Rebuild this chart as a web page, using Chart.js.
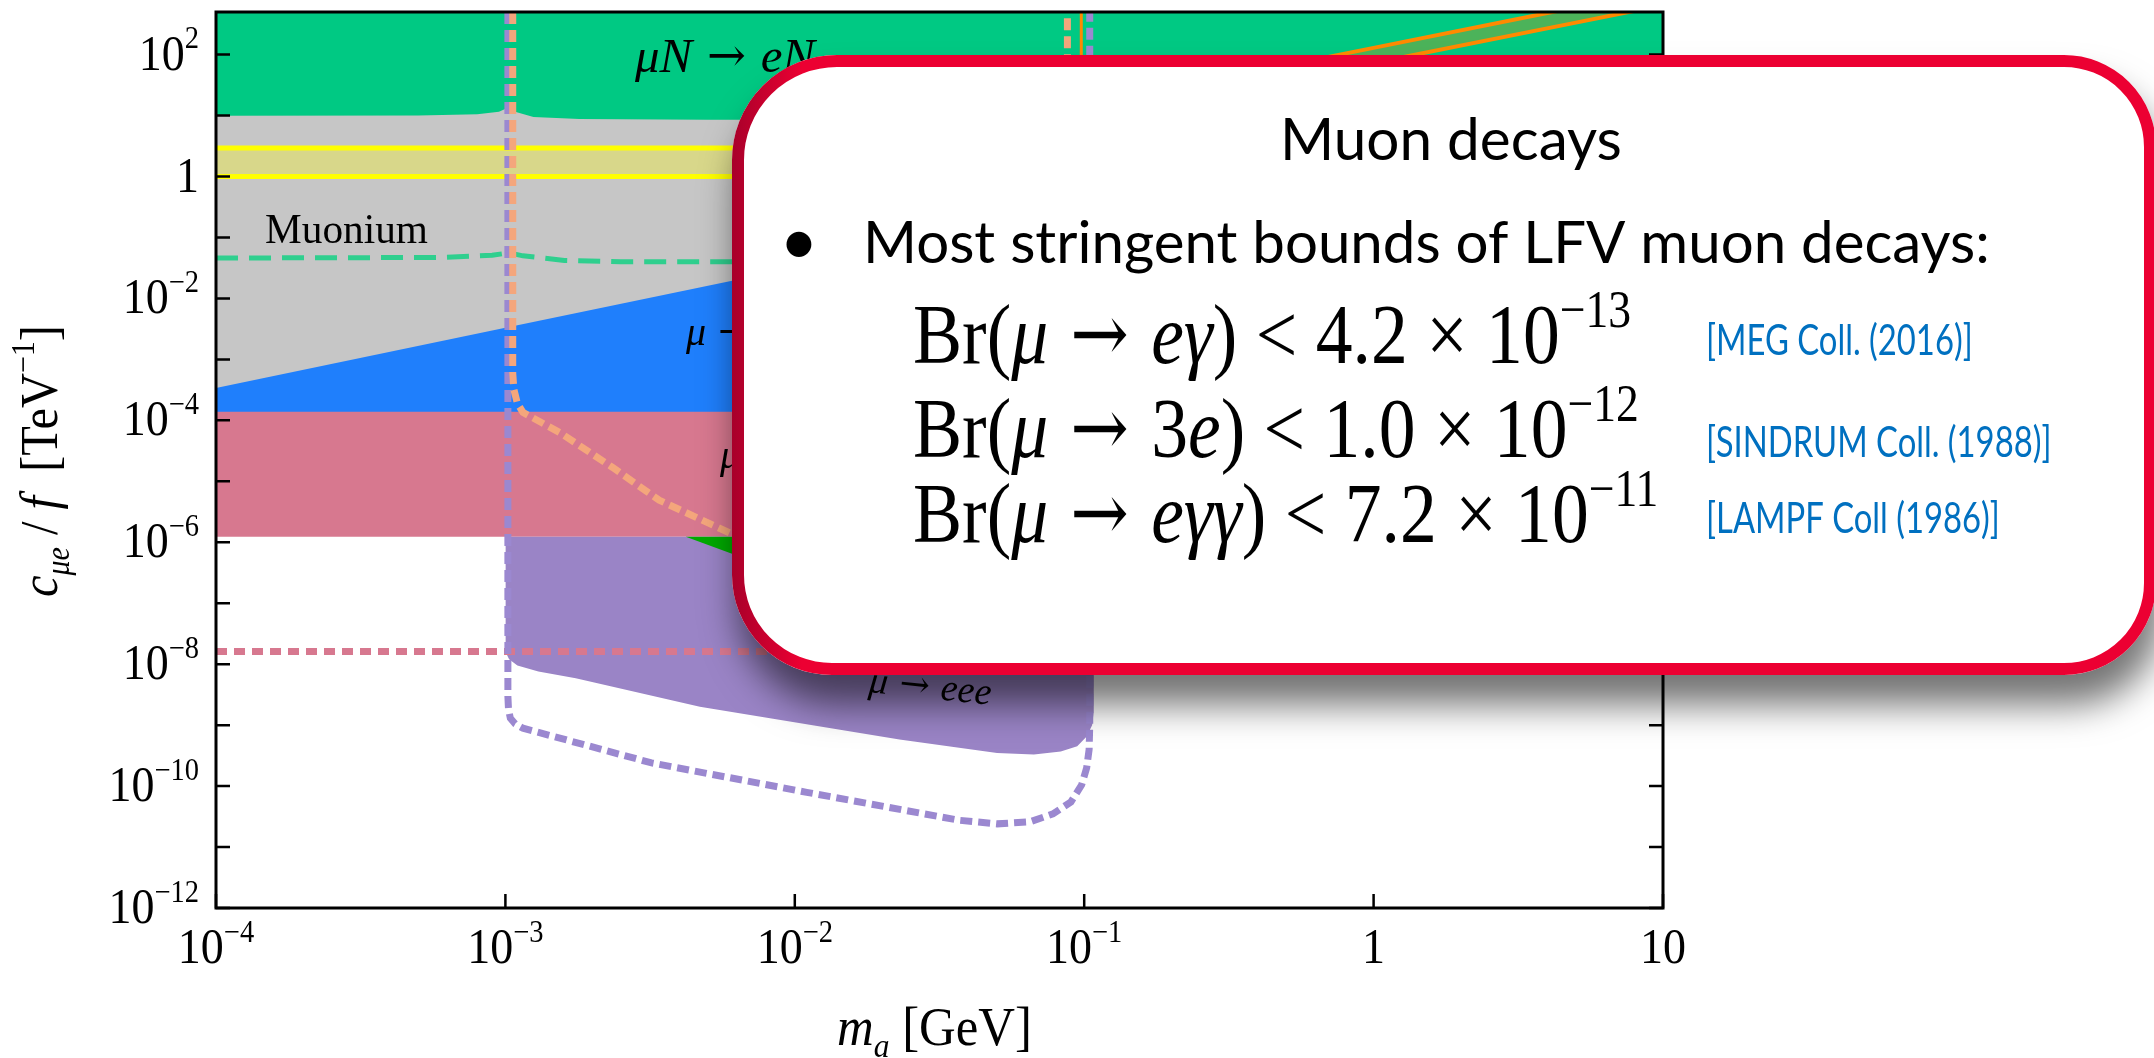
<!DOCTYPE html>
<html>
<head>
<meta charset="utf-8">
<script src="https://cdn.jsdelivr.net/npm/chart.js@4.4.1/dist/chart.umd.min.js"></script>
<style>
  html, body { margin: 0; padding: 0; background: #ffffff; }
  #wrap { width: 2154px; height: 1058px; position: relative; }
</style>
</head>
<body>
<div id="wrap"><canvas id="c" width="2154" height="1058"></canvas></div>
<script>
// ---- axis ticks ----
const xTickValues = [1e-4, 1e-3, 1e-2, 1e-1, 1, 10];
const xTickLabels = [['10', '−4'], ['10', '−3'], ['10', '−2'], ['10', '−1'], ['1', ''], ['10', '']];
const yTickValues = [1e2, 1, 1e-2, 1e-4, 1e-6, 1e-8, 1e-10, 1e-12];
const yTickLabels = [['10', '2'], ['1', ''], ['10', '−2'], ['10', '−4'], ['10', '−6'], ['10', '−8'], ['10', '−10'], ['10', '−12']];
const yMinorDecades = [1e1, 1e-1, 1e-3, 1e-5, 1e-7, 1e-9, 1e-11];

// ---- excluded regions: [m_a (GeV), c/f (TeV^-1)] ----
const muoniumEdge = [[1e-4, 1e-4], [10, 1e-4]];
const megTop = [[1e-4, 3.4e-4], [1e-3, 3.3e-3], [1e-2, 3.2e-2], [1.05e-1, 3.2e-1]];
const megBottom = 1e-5;
const pinkTop = [[1e-4, 1.38e-4], [1.05e-1, 1.38e-4]];
const pinkBottom = 1.23e-6;
const mu3eLower = [[1.0e-3, 1.6e-8], [1.03e-3, 1.2e-8], [1.1e-3, 9.5e-9], [1.3e-3, 7.6e-9], [1.75e-3, 5.9e-9], [4.7e-3, 2.0e-9],
  [2.3e-2, 5.8e-10], [5e-2, 3.5e-10], [6.7e-2, 3.3e-10], [8.3e-2, 3.7e-10], [9.46e-2, 4.5e-10],
  [1.02e-1, 6.5e-10], [1.065e-1, 1.0e-9], [1.078e-1, 1.6e-9], [1.08e-1, 4e-9], [1.08e-1, 1.23e-6]];
const eggLower = [[4.2e-3, 1.23e-6], [6.1e-3, 6.4e-7], [1.5e-2, 1.6e-7], [4e-2, 5e-8], [1e-1, 5e-8]];
const yellowUpper = [[1e-4, 2.95], [10, 2.95]];
const yellowLower = [[1e-4, 1], [10, 1]];
const conversionLower = [[1e-4, 9.9], [5e-4, 10.0], [8e-4, 10.5], [9.5e-4, 11.6], [1.02e-3, 13.4],
  [1.08e-3, 11.5], [1.25e-3, 9.5], [1.8e-3, 8.8], [5e-3, 8.5], [10, 8.5]];
const orangeUpper = [[0.2, 28], [1, 129], [5, 597], [10, 1157]];
const orangeLower = [[0.2, 15.7], [1, 72.7], [5, 335], [10, 647]];

// ---- projected sensitivities ----
const muoniumFuture = [[1e-4, 0.046], [6e-4, 0.047], [9e-4, 0.051], [1.03e-3, 0.056], [1.15e-3, 0.05],
  [1.6e-3, 0.042], [2.5e-3, 0.04], [10, 0.04]];
const pinkFuture = [[1e-4, 1.62e-8], [1.05e-1, 1.62e-8]];
const orangeVertical = [[0.0977, 500], [0.0977, 1e-3]];
const salmonFuture = [[1.06e-3, 500], [1.06e-3, 6e-4], [1.07e-3, 3.2e-4], [1.1e-3, 1.9e-4], [1.15e-3, 1.35e-4],
  [1.55e-3, 6.2e-5], [2.34e-3, 1.7e-5], [3.4e-3, 4.9e-6], [6.0e-3, 1.4e-6], [1.2e-2, 3e-7], [3e-2, 8e-8],
  [6e-2, 5e-8], [8e-2, 8e-8], [8.6e-2, 5e-7], [8.75e-2, 1e-5], [8.75e-2, 500]];
const mu3eFuture = [[1.02e-3, 500], [1.02e-3, 3e-9], [1.025e-3, 1.8e-9], [1.04e-3, 1.3e-9], [1.08e-3, 1.05e-9],
  [1.15e-3, 8.9e-10], [3.2e-3, 2.4e-10], [1.1e-2, 7.9e-11], [3.7e-2, 2.75e-11], [5e-2, 2.4e-11],
  [6.5e-2, 2.6e-11], [7.8e-2, 3.5e-11], [9e-2, 5.5e-11], [9.8e-2, 1.05e-10], [1.02e-1, 2e-10],
  [1.04e-1, 4e-10], [1.045e-1, 1e-9], [1.045e-1, 500]];

const SERIF = '"Liberation Serif", "Times New Roman", serif';
const ARROW = '"DejaVu Serif", serif';
const SANS = 'Lato, "Open Sans", sans-serif';
const NONE = 'rgba(0,0,0,0)';

const pts = a => a.map(([x, y]) => ({ x, y }));
function ds(label, data, order, extra) {
  return Object.assign({
    label, data: pts(data), order, pointRadius: 0, pointHoverRadius: 0,
    borderWidth: 0, borderColor: NONE, backgroundColor: NONE, tension: 0, fill: false
  }, extra);
}

const datasets = [
  ds('Muonium', muoniumEdge, 100, { fill: 'end', backgroundColor: '#c6c6c6' }),
  ds('mu -> e gamma', megTop, 95, { fill: { value: megBottom }, backgroundColor: '#1f7ffc' }),
  ds('mu -> e gamma gamma', pinkTop, 90, { fill: { value: pinkBottom }, backgroundColor: '#d7788f' }),
  ds('mu -> eee', mu3eLower, 85, { fill: { value: pinkBottom }, backgroundColor: '#9a84c6' }),
  ds('mu -> e a', eggLower, 84, { fill: { value: pinkBottom }, backgroundColor: '#00aa00' }),
  ds('band', yellowUpper, 80, { fill: { value: 1 }, backgroundColor: '#d8d78a', borderColor: '#ffff00', borderWidth: 5 }),
  ds('band low', yellowLower, 79, { borderColor: '#ffff00', borderWidth: 5 }),
  ds('muN -> eN', conversionLower, 75, { fill: 'end', backgroundColor: '#00c983' }),
  ds('orange upper', orangeUpper, 70, { fill: 9, backgroundColor: '#4cb35a', borderColor: '#ff8a00', borderWidth: 4 }),
  ds('orange lower', orangeLower, 69, { borderColor: '#ff8a00', borderWidth: 4 }),
  ds('muonium future', muoniumFuture, 60, { borderColor: '#2fcf8e', borderWidth: 5, borderDash: [22, 11] }),
  ds('pink future', pinkFuture, 55, { borderColor: '#d7788f', borderWidth: 7, borderDash: [11, 7] }),
  ds('orange vertical', orangeVertical, 52, { borderColor: '#ff8a00', borderWidth: 3 }),
  ds('mu3e future', mu3eFuture, 50, { borderColor: '#9b88d0', borderWidth: 7, borderDash: [12, 6] }),
  ds('salmon future', salmonFuture, 45, { borderColor: '#f4a67c', borderWidth: 7, borderDash: [12, 6] })
];

// ---- rich text helpers (italic / superscript / subscript runs) ----
function partFont(p, size, family) {
  let s = (p.sup || p.sub) ? size * 0.62 : size;
  if (p.k) s *= p.k;
  return (p.i ? 'italic ' : '') + s.toFixed(2) + 'px ' + (p.f || family);
}
function richWidth(ctx, parts, size, family) {
  let w = 0;
  for (const p of parts) { ctx.font = partFont(p, size, family); w += ctx.measureText(p.t).width; }
  return w;
}
function drawRich(ctx, parts, x, y, size, family) {
  for (const p of parts) {
    ctx.font = partFont(p, size, family);
    let dy = p.sup ? -size * 0.43 : (p.sub ? size * 0.22 : 0);
    if (p.dy) dy += p.dy * size;
    ctx.fillText(p.t, x, y + dy);
    x += ctx.measureText(p.t).width;
  }
  return x;
}
function fitSize(ctx, parts, width, family) {
  return 100 * width / richWidth(ctx, parts, 100, family);
}
// draws a run stretched vertically about its baseline
function drawStretched(ctx, parts, x, y, size, family, sy) {
  ctx.save();
  ctx.translate(x, y);
  ctx.scale(1, sy);
  drawRich(ctx, parts, 0, 0, size, family);
  ctx.restore();
}

const arrow = { t: ' → ', f: ARROW, k: 0.95, dy: -0.02 };
const labelParts = {
  muN: [{ t: 'μN', i: 1 }, arrow, { t: 'eN', i: 1 }],
  meg: [{ t: 'μ', i: 1 }, arrow, { t: 'eγ', i: 1 }],
  megg: [{ t: 'μ', i: 1 }, arrow, { t: 'eγγ', i: 1 }],
  eee: [{ t: 'μ', i: 1 }, arrow, { t: 'eee', i: 1 }],
  muonium: [{ t: 'Muonium' }]
};

const formulas = [
  [{ t: 'Br(' }, { t: 'μ', i: 1 }, arrow, { t: 'eγ', i: 1 }, { t: ') < 4.2 × 10' }, { t: '−13', sup: 1 }],
  [{ t: 'Br(' }, { t: 'μ', i: 1 }, { t: ' → ', f: ARROW, k: 0.95, dy: -0.02 }, { t: '3' }, { t: 'e', i: 1 }, { t: ') < 1.0 × 10' }, { t: '−12', sup: 1 }],
  [{ t: 'Br(' }, { t: 'μ', i: 1 }, arrow, { t: 'eγγ', i: 1 }, { t: ') < 7.2 × 10' }, { t: '−11', sup: 1 }]
];
const citations = ['[MEG Coll. (2016)]', '[SINDRUM Coll. (1988)]', '[LAMPF Coll (1986)]'];

const decor = {
  id: 'decor',
  afterDatasetsDraw(chart) {
    const ctx = chart.ctx;
    const a = chart.chartArea;
    ctx.save();
    ctx.beginPath();
    ctx.rect(a.left, a.top, a.right - a.left, a.bottom - a.top);
    ctx.clip();
    ctx.fillStyle = '#000';
    ctx.textBaseline = 'alphabetic';
    let s = fitSize(ctx, labelParts.muN, 180, SERIF);
    drawRich(ctx, labelParts.muN, 635, 72, s, SERIF);
    s = fitSize(ctx, labelParts.muonium, 163, SERIF);
    drawRich(ctx, labelParts.muonium, 265, 243, s, SERIF);
    drawRich(ctx, labelParts.meg, 686, 345, 40, SERIF);
    drawRich(ctx, labelParts.megg, 720, 468, 40, SERIF);
    ctx.save();
    ctx.translate(868, 692);
    ctx.rotate(6 * Math.PI / 180);
    drawRich(ctx, labelParts.eee, 0, 0, 38, SERIF);
    ctx.restore();
    ctx.restore();

    // frame and inward ticks
    ctx.save();
    ctx.strokeStyle = '#000';
    ctx.lineWidth = 3;
    ctx.strokeRect(a.left, a.top, a.right - a.left, a.bottom - a.top);
    ctx.lineWidth = 2.5;
    const ys = chart.scales.y, xs = chart.scales.x;
    ctx.beginPath();
    for (const v of yTickValues.concat(yMinorDecades)) {
      const py = ys.getPixelForValue(v);
      ctx.moveTo(a.left, py); ctx.lineTo(a.left + 14, py);
      ctx.moveTo(a.right, py); ctx.lineTo(a.right - 14, py);
    }
    for (const v of xTickValues) {
      const px = xs.getPixelForValue(v);
      ctx.moveTo(px, a.bottom); ctx.lineTo(px, a.bottom - 14);
    }
    ctx.stroke();
    ctx.restore();
  },
  afterDraw(chart) {
    const ctx = chart.ctx;
    const a = chart.chartArea;
    const ys = chart.scales.y, xs = chart.scales.x;
    ctx.save();
    ctx.fillStyle = '#000';
    ctx.textBaseline = 'alphabetic';
    // tick labels
    const TS = 46;
    xTickValues.forEach((v, k) => {
      const [b, e] = xTickLabels[k];
      const parts = [{ t: b }].concat(e ? [{ t: e, sup: 1 }] : []);
      const w = richWidth(ctx, parts, TS, SERIF);
      drawStretched(ctx, parts, xs.getPixelForValue(v) - w / 2, a.bottom + 55, TS, SERIF, 1.08);
    });
    yTickValues.forEach((v, k) => {
      const [b, e] = yTickLabels[k];
      const parts = [{ t: b }].concat(e ? [{ t: e, sup: 1 }] : []);
      const w = richWidth(ctx, parts, TS, SERIF);
      drawStretched(ctx, parts, 199 - w, ys.getPixelForValue(v) + 15, TS, SERIF, 1.08);
    });
    // axis titles
    const xTitle = [{ t: 'm', i: 1 }, { t: 'a', i: 1, sub: 1 }, { t: ' [GeV]' }];
    let s = fitSize(ctx, xTitle, 195, SERIF);
    drawStretched(ctx, xTitle, 837, 1045, s, SERIF, 1.1);
    const yTitle = [{ t: 'c', i: 1 }, { t: 'μe', i: 1, sub: 1 }, { t: ' / ' }, { t: 'f', i: 1 }, { t: '  [TeV' }, { t: '−1', sup: 1 }, { t: ']' }];
    s = fitSize(ctx, yTitle, 272, SERIF);
    ctx.save();
    ctx.translate(57, 461);
    ctx.rotate(-Math.PI / 2);
    drawStretched(ctx, yTitle, -136, 0, s, SERIF, 1.1);
    ctx.restore();

    // ---- callout panel ----
    const L = 732, T = 55, R = 2156, B = 675, bw = 12;
    const radii = [105, 92, 92, 100];
    ctx.save();
    ctx.shadowColor = 'rgba(0,0,0,0.55)';
    ctx.shadowBlur = 36;
    ctx.shadowOffsetX = 6;
    ctx.shadowOffsetY = 30;
    ctx.fillStyle = '#ffffff';
    ctx.beginPath();
    ctx.roundRect(L, T, R - L, B - T, radii);
    ctx.fill();
    ctx.restore();
    ctx.save();
    const g = ctx.createLinearGradient(L, 0, L + 70, 0);
    g.addColorStop(0, '#a8002a');
    g.addColorStop(1, '#ec0032');
    ctx.strokeStyle = g;
    ctx.lineWidth = bw;
    ctx.beginPath();
    ctx.roundRect(L + bw / 2, T + bw / 2, R - L - bw, B - T - bw, radii.map(r => r - bw / 2));
    ctx.stroke();
    ctx.restore();

    ctx.fillStyle = '#000';
    // heading
    let fs = fitSize(ctx, [{ t: 'Muon decays' }], 342, SANS);
    drawRich(ctx, [{ t: 'Muon decays' }], 1280, 160, fs, SANS);
    // bullet line
    const bl = [{ t: 'Most stringent bounds of LFV muon decays:' }];
    fs = fitSize(ctx, bl, 1127, SANS);
    drawRich(ctx, bl, 863, 263, fs, SANS);
    ctx.font = (fs * 1.15).toFixed(2) + 'px ' + SANS;
    const bwid = ctx.measureText('•').width;
    ctx.fillText('•', 799 - bwid / 2, 265);
    // formulas
    const fWidths = [719, 715, 756];
    const fBase = [363, 457, 542];
    let fsum = 0;
    formulas.forEach((f, k) => { fsum += fitSize(ctx, f, fWidths[k], SERIF); });
    const fsize = fsum / formulas.length;
    formulas.forEach((f, k) => drawStretched(ctx, f, 913, fBase[k], fsize, SERIF, 1.15));
    // citations
    const cWidths = [269, 344, 293];
    const cBase = [355, 457, 533];
    ctx.fillStyle = '#0070c0';
    let csum = 0;
    citations.forEach((c, k) => { csum += fitSize(ctx, [{ t: c }], cWidths[k], SANS); });
    const csize = csum / citations.length;
    citations.forEach((c, k) => drawStretched(ctx, [{ t: c }], 1706, cBase[k], csize, SANS, 1.3));
    ctx.restore();
  }
};

new Chart(document.getElementById('c'), {
  type: 'line',
  data: { datasets },
  options: {
    responsive: false,
    animation: false,
    devicePixelRatio: 1,
    layout: { padding: { left: 0, top: 12, right: 491, bottom: 0 } },
    plugins: {
      legend: { display: false },
      tooltip: { enabled: false },
      filler: { propagate: false, drawTime: 'beforeDatasetDraw' }
    },
    scales: {
      x: {
        type: 'logarithmic', min: 1e-4, max: 10,
        grid: { display: false }, border: { display: false }, ticks: { display: false },
        afterFit(s) { s.height = 150; }
      },
      y: {
        type: 'logarithmic', min: 1e-12, max: 500,
        grid: { display: false }, border: { display: false }, ticks: { display: false },
        afterFit(s) { s.width = 216; }
      }
    }
  },
  plugins: [decor]
});
</script>
</body>
</html>
